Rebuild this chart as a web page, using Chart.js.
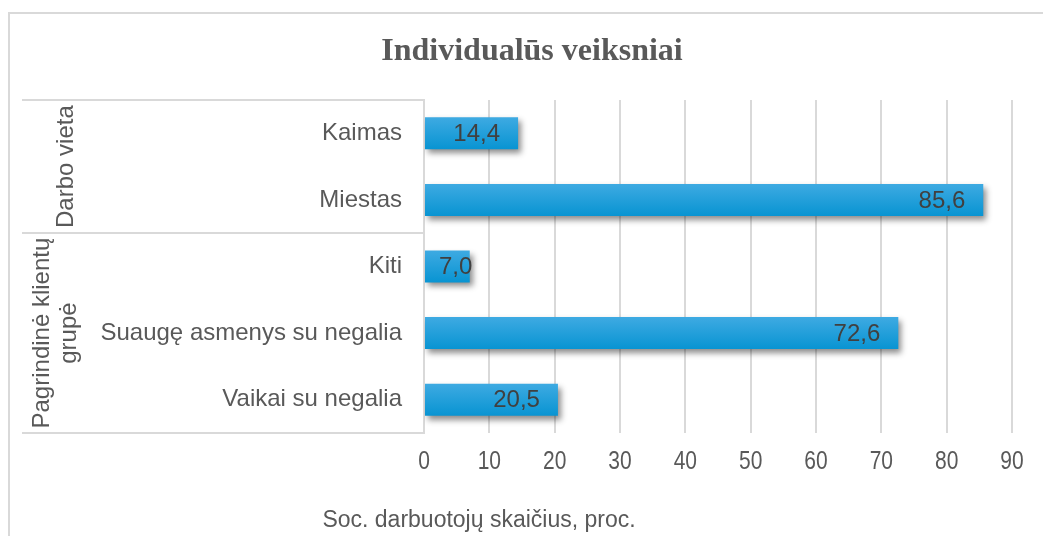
<!DOCTYPE html>
<html>
<head>
<meta charset="utf-8">
<script src="https://cdn.jsdelivr.net/npm/chart.js@4.4.1/dist/chart.umd.min.js"></script>
<style>
  html, body { margin: 0; padding: 0; background: #fff; }
  #wrap { width: 1043px; height: 536px; }
</style>
</head>
<body>
<div id="wrap"><canvas id="chart" width="1043" height="536"></canvas></div>
<script>
// data
const categories = ['Kaimas', 'Miestas', 'Kiti', 'Suaugę asmenys su negalia', 'Vaikai su negalia'];
const values = [14.4, 85.6, 7.0, 72.6, 20.5];
const groupNames = [['Darbo vieta'], ['Pagrindinė klientų', 'grupė']];
const groupSizes = [2, 3];
const xTicks = [0, 10, 20, 30, 40, 50, 60, 70, 80, 90];

const titleText = 'Individualūs veiksniai';
const axisTitle = 'Soc. darbuotojų skaičius, proc.';

const SANS = "'Liberation Sans', Arial, sans-serif";
const SERIF = "'Liberation Serif', 'Times New Roman', serif";
const LINE = '#d9d9d9';

const fmt = v => v.toFixed(1).replace('.', ',');

// vertical gradient per bar
const barFill = (c) => {
  const chart = c.chart;
  const y = chart.scales.y;
  if (!y || c.dataIndex === undefined) return '#1aa0dc';
  const yc = y.getPixelForValue(c.dataIndex);
  const h = y.height / categories.length * 0.48;
  if (!isFinite(yc) || !isFinite(h) || h <= 0) return '#1aa0dc';
  const g = chart.ctx.createLinearGradient(0, yc - h / 2, 0, yc + h / 2);
  g.addColorStop(0, '#3eaae2');
  g.addColorStop(1, '#0894d2');
  return g;
};

const decor = {
  id: 'decor',
  beforeDraw(chart) {
    const ctx = chart.ctx;
    ctx.save();
    ctx.fillStyle = '#fff';
    ctx.fillRect(0, 0, chart.width, chart.height);
    // outer frame
    ctx.strokeStyle = LINE;
    ctx.lineWidth = 2;
    ctx.strokeRect(9, 13, chart.width + 40, chart.height + 40);
    ctx.restore();
  },
  beforeDatasetsDraw(chart) {
    const ctx = chart.ctx;
    ctx.save();
    ctx.shadowColor = 'rgba(0,0,0,0.45)';
    ctx.shadowBlur = 6;
    ctx.shadowOffsetX = 3;
    ctx.shadowOffsetY = 4;
  },
  afterDatasetsDraw(chart) {
    const ctx = chart.ctx;
    ctx.restore();
    const area = chart.chartArea;
    const y = chart.scales.y;
    const x = chart.scales.x;
    const step = y.height / categories.length;

    // group divider lines on the category axis
    ctx.save();
    ctx.strokeStyle = LINE;
    ctx.lineWidth = 2;
    let idx = 0;
    const bounds = [area.top];
    groupSizes.forEach(n => { idx += n; bounds.push(area.top + idx * step); });
    bounds.forEach(b => {
      ctx.beginPath();
      ctx.moveTo(22, Math.round(b));
      ctx.lineTo(area.left, Math.round(b));
      ctx.stroke();
    });

    // rotated group names
    ctx.fillStyle = '#595959';
    ctx.font = '24px ' + SANS;
    ctx.textAlign = 'center';
    ctx.textBaseline = 'middle';
    groupNames.forEach((lines, i) => {
      const cy = (bounds[i] + bounds[i + 1]) / 2;
      const lh = 27;
      const cx0 = lines.length === 1 ? 66 : 42;
      lines.forEach((t, k) => {
        ctx.save();
        ctx.translate(cx0 + k * lh, cy);
        ctx.rotate(-Math.PI / 2);
        ctx.fillText(t, 0, 0);
        ctx.restore();
      });
    });

    // x tick labels (slightly tall, as in the reference)
    ctx.font = '21px ' + SANS;
    xTicks.forEach(v => {
      ctx.save();
      ctx.translate(x.getPixelForValue(v), 462);
      ctx.scale(1, 1.2);
      ctx.fillText(String(v), 0, 0);
      ctx.restore();
    });

    // value labels, inside end
    const meta = chart.getDatasetMeta(0);
    ctx.fillStyle = '#404040';
    ctx.font = '24px ' + SANS;
    ctx.textAlign = 'right';
    meta.data.forEach((bar, i) => {
      const t = fmt(values[i]);
      const w = ctx.measureText(t).width;
      const px = Math.max(bar.x - 18, bar.base + 14 + w);
      ctx.fillText(t, px, bar.y + 1);
    });

    // title and axis title
    ctx.textAlign = 'center';
    ctx.fillStyle = '#595959';
    ctx.font = 'bold 32px ' + SERIF;
    ctx.fillText(titleText, 532, 52);
    ctx.font = '23px ' + SANS;
    ctx.fillText(axisTitle, 479, 521);
    ctx.restore();
  }
};

new Chart(document.getElementById('chart'), {
  type: 'bar',
  data: {
    labels: categories,
    datasets: [{
      data: values,
      backgroundColor: barFill,
      borderWidth: 0,
      categoryPercentage: 1,
      barPercentage: 0.48
    }]
  },
  options: {
    indexAxis: 'y',
    responsive: false,
    animation: false,
    layout: { padding: { top: 100, right: 31, left: 0, bottom: 0 } },
    plugins: { legend: { display: false }, tooltip: { enabled: false }, title: { display: false } },
    scales: {
      x: {
        min: 0,
        max: 90,
        afterBuildTicks: s => { s.ticks = xTicks.map(v => ({ value: v })); },
        afterFit: s => { s.height = 103; },
        grid: { color: LINE, lineWidth: 2, drawTicks: false },
        border: { display: false },
        ticks: { display: false }
      },
      y: {
        afterFit: s => { s.width = 424; },
        grid: { display: false, drawTicks: false },
        border: { display: true, color: LINE, width: 2 },
        ticks: { color: '#595959', font: { family: SANS, size: 24 }, padding: 22 }
      }
    }
  },
  plugins: [decor]
});
</script>
</body>
</html>
